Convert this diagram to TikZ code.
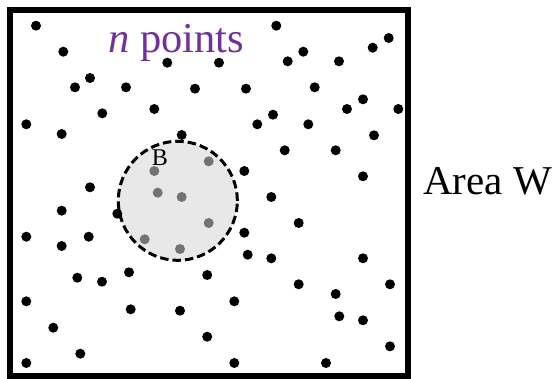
\documentclass[tikz,border=0pt]{standalone}
\usepackage{fontspec}
\setmainfont{Liberation Serif}
\definecolor{npurple}{HTML}{7030A0}
\definecolor{bfill}{HTML}{E8E8E8}
\begin{document}
\begin{tikzpicture}[x=1pt,y=-1pt,
  dot/.style={fill=black},
  gdot/.style={fill=black!55},
  lbl/.style={inner sep=0pt, anchor=base west, font=\fontsize{41}{48}\selectfont}]
\useasboundingbox (0,0) rectangle (555,379);
% ball B
\node[circle, minimum size=119pt, inner sep=0pt, draw, fill=bfill, line width=3pt,
  dash pattern=on 8.5pt off 4pt] (ballB) at (177.8,200.8) {};
% area W
\draw[line width=6pt] (9.7,9.7) rectangle (407.5,376.3);
\coordinate (areaW) at (407.5,193);
% black points
\foreach \x/\y in {36/25.7, 63.3/51.7, 167.3/62.7, 90/78, 75/87.3, 126/87.3, 195/88.7,
  102.3/113.3, 154.3/109, 26.3/124.3, 61.7/134, 181.7/135, 90/187.3,
  276.3/25.7, 388.7/38, 372.7/47.7, 219/62.7, 303.3/51.7, 287.7/61.3, 339/61.3,
  246/88.7, 314.7/87.3, 363/99.3, 347/109, 398.3/109, 273/114.7, 257.3/124.3,
  308.3/124.3, 374/135.3, 284.7/150.3, 335.7/150.3, 244.3/171, 363/176.3,
  61.7/210.7, 117.3/213.7, 26.3/236.7, 88.7/236.7, 61.7/246,
  129/272.3, 77.3/277.7, 102/281.7, 207.2/275, 26.3/301.3, 130.7/309.3, 180/310.7,
  53.3/327.7, 207.2/336.7, 80.3/353.7, 26.3/363,
  271.3/197, 298.7/223, 244.3/232.7, 247.7/254.7, 271.3/258.3, 363/258.3,
  298.7/284.3, 390/284.3, 335.7/294, 234.3/301.3, 339.3/316.3, 363/320.3,
  390/346.3, 234.3/363, 326/363}
  \fill[dot] (\x,\y) circle[radius=5pt];
% grey points inside B
\foreach \x/\y in {154.3/171, 208.7/161.3, 157.7/192.7, 181.7/197, 208.7/223,
  144.7/239.3, 180/249}
  \fill[gdot] (\x,\y) circle[radius=5pt];
% labels
\node[lbl, text=npurple, font=\fontsize{42.5}{50}\selectfont] (npoints) at (108,52.7) {\textit{n} points};
\node[lbl] (areaWlabel) at (423,195) {Area W};
\node[inner sep=0pt, anchor=base, font=\fontsize{24}{29}\selectfont] (Blabel) at (160,166) {B};
\end{tikzpicture}
\end{document}
